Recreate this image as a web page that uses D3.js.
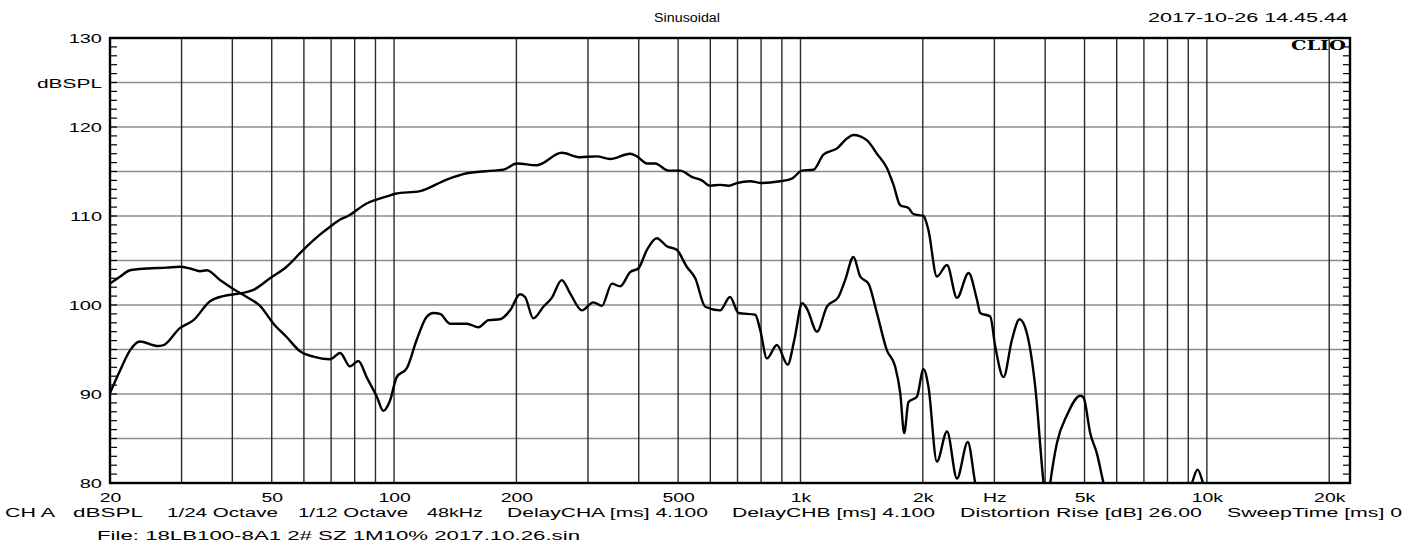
<!DOCTYPE html>
<html><head><meta charset="utf-8">
<script src="https://cdn.jsdelivr.net/npm/d3@7"></script>
<style>
html,body{margin:0;padding:0;background:#fff;}
svg{display:block;}
text{fill:#000;}
</style></head><body>
<svg id="chart" width="1419" height="545"></svg>
<script>
// ---- data ----
const freqA = [20,21.2,22.4,23.7,26.1,27.1,29.7,32.1,35.2,38.0,41.8,45.1,49.5,54.4,59.8,65.7,69.6,73.7,77,85.6,96.0,100.6,115.9,134.8,151,175.5,185.8,200.5,224.5,258.6,287,315,340,381,396,419,439,473,506,540,572,599,634,665,697,752,804,891,953,1008,1077,1139,1230,1301,1350,1458,1542,1632,1694,1760,1844,1898,2008,2065,2166,2294,2427,2592,2718,2770,2930,3016,3160,3314,3460,3608,3782,3964,4040,4117,4276,4525,4880,4972,5164,5364,5568,6500,8500,9192,9487,9784,10500,22500];
const splA  = [90.1,92.7,94.9,95.9,95.4,95.5,97.4,98.3,100.4,101.0,101.3,101.7,103.0,104.3,106.2,107.9,108.8,109.6,110.0,111.4,112.2,112.5,112.8,114.1,114.8,115.1,115.2,115.9,115.7,117.1,116.6,116.7,116.4,117.0,116.7,115.9,115.9,115.1,115.1,114.4,114.0,113.4,113.5,113.4,113.7,113.9,113.7,113.9,114.2,115.1,115.2,116.9,117.6,118.7,119.1,118.5,117.0,115.4,113.5,111.2,110.9,110.2,110.0,108.4,103.2,104.5,100.8,103.6,100.6,99.1,98.7,95.3,91.9,96.1,98.4,96.8,90.8,80.0,77.0,80.0,84.5,87.6,89.8,89.6,85.6,83.3,80.0,72,74,80.0,81.5,80.0,74,70];
const freqB = [20,21.2,22.4,24.6,27.6,29.7,31.5,33.3,34.6,37.3,40.2,43.4,46.8,50.5,54.4,58.7,63.3,69.6,73.7,77.9,81.7,85.6,90.7,94.1,97.8,101.5,107.5,113.7,120.4,125,129.8,137.3,151,161.3,170.7,182.4,193,204.2,210,220.2,233,244.4,258.6,271.2,289.8,309.4,324.6,343.6,360,381,399,419,443,469,496,525,551,583,634,671,704,774,796,827,875,930,965,1010,1037,1098,1161,1240,1288,1350,1403,1470,1542,1632,1710,1760,1800,1844,1934,2008,2065,2166,2294,2427,2580,2692,2900,22500];
const splB  = [102.4,103.2,103.9,104.1,104.2,104.3,104.1,103.8,103.9,102.8,101.8,100.9,99.9,97.9,96.4,94.8,94.2,93.9,94.6,93.1,93.7,91.9,89.7,88.1,89.3,91.9,92.9,96.1,98.7,99.1,99.0,97.9,97.9,97.5,98.3,98.4,99.4,101.2,100.9,98.5,99.8,100.8,102.8,101.3,99.4,100.3,99.9,102.4,102.1,103.7,104.1,106.2,107.5,106.6,106.2,104.3,103.0,99.8,99.4,100.9,99.1,98.9,97.2,94.0,95.5,93.3,96.0,100.2,99.6,97.0,99.8,100.9,102.8,105.4,103.2,102.4,99.1,94.9,93.1,90.1,85.6,89.1,89.7,92.8,90.8,82.4,85.8,80.5,84.6,80.0,74,65];
const xTickValues = [20,50,100,200,500,1000,2000,3000,5000,10000,20000];
const xTickLabels = ["20","50","100","200","500","1k","2k","Hz","5k","10k","20k"];
const yTickValues = [130,125,120,110,100,90,80];
const yTickLabels = ["130","dBSPL","120","110","100","90","80"];
const titleText = "Sinusoidal";
const dateText = "2017-10-26 14.45.44";
const footer1 = ["CH A","dBSPL","1/24 Octave","1/12 Octave","48kHz","DelayCHA [ms] 4.100","DelayCHB [ms] 4.100","Distortion Rise [dB] 26.00","SweepTime [ms] 0"];
const footer2 = "File: 18LB100-8A1 2# SZ 1M10% 2017.10.26.sin";

// ---- layout ----
const L=110, R=1350, T=38, B=483;
const SANS = "'Liberation Sans',Arial,sans-serif";
const SERIF = "'DejaVu Serif','Liberation Serif','Times New Roman',serif";
const svg = d3.select("#chart");
const x = d3.scaleLog().domain([20,22500]).range([L,R]);
const y = d3.scaleLinear().domain([80,130]).range([B,T]);

function fit(sel, w){ sel.attr("textLength", w).attr("lengthAdjust","spacingAndGlyphs"); return sel; }
function stretch(sel, k){ sel.each(function(){ const w=this.getComputedTextLength(); this.setAttribute("textLength", w*k); this.setAttribute("lengthAdjust","spacingAndGlyphs"); }); }
function txt(xp, yp, s, size, anchor){
  return svg.append("text").attr("x",xp).attr("y",yp).attr("text-anchor",anchor||"start")
    .style("font-family",SANS).style("font-size",size+"px").text(s);
}

// grid: horizontal every 5 dB
const hGrid = d3.range(85,130,5);
svg.append("g").selectAll("line").data(hGrid).join("line")
  .attr("x1",L).attr("x2",R).attr("y1",d=>y(d)).attr("y2",d=>y(d))
  .attr("stroke","#8c8c8c").attr("stroke-width",1.5);
// vertical grid lines at k*10^n
const vGrid = [];
[10,100,1000,10000].forEach(dec=>{ for(let k=1;k<=9;k++){ const f=k*dec; if(f>20 && f<=20000) vGrid.push(f);} });
svg.append("g").selectAll("line").data(vGrid).join("line")
  .attr("x1",d=>x(d)).attr("x2",d=>x(d)).attr("y1",T).attr("y2",B)
  .attr("stroke","#2a2a2a").attr("stroke-width",1.4);

// minor ticks every dB on left and right edges
const minor = d3.range(81,130,1);
svg.append("g").selectAll("line").data(minor).join("line")
  .attr("x1",L).attr("x2",L+7).attr("y1",d=>y(d)).attr("y2",d=>y(d))
  .attr("stroke","#000").attr("stroke-width",1.2);
svg.append("g").selectAll("line").data(minor).join("line")
  .attr("x1",R-7).attr("x2",R).attr("y1",d=>y(d)).attr("y2",d=>y(d))
  .attr("stroke","#000").attr("stroke-width",1.2);

// curves
svg.append("clipPath").attr("id","clip").append("rect")
  .attr("x",L).attr("y",T).attr("width",R-L).attr("height",B-T);
const line = d3.line().x(d=>x(d[0])).y(d=>y(d[1])).curve(d3.curveMonotoneX);
const seriesA = freqA.map((f,i)=>[f,splA[i]]);
const seriesB = freqB.map((f,i)=>[f,splB[i]]);
const cg = svg.append("g").attr("clip-path","url(#clip)");
[seriesA, seriesB].forEach(s=>{
  cg.append("path").datum(s).attr("d",line)
    .attr("fill","none").attr("stroke","#000").attr("stroke-width",2.4)
    .attr("stroke-linejoin","round");
});

// frame
svg.append("rect").attr("x",L).attr("y",T).attr("width",R-L).attr("height",B-T)
  .attr("fill","none").attr("stroke","#000").attr("stroke-width",2.4);

// x axis labels
const xAxis = d3.axisBottom(x).tickValues(xTickValues).tickFormat((d,i)=>xTickLabels[i]).tickSize(0).tickPadding(0);
const gx = svg.append("g").attr("transform",`translate(0,${B})`).call(xAxis);
gx.select(".domain").remove();
gx.selectAll("text").attr("y",19).attr("dy",0)
  .style("font-size","12.5px").style("font-family",SANS).attr("fill","#000");
gx.selectAll("text").each(function(){ stretch(d3.select(this), 1.55); });

// y axis labels
const yAxis = d3.axisLeft(y).tickValues(yTickValues).tickFormat((d,i)=>yTickLabels[i]).tickSize(0).tickPadding(0);
const gy = svg.append("g").attr("transform",`translate(${L-8},0)`).call(yAxis);
gy.select(".domain").remove();
gy.selectAll("text").attr("x",0).attr("dy","0.36em")
  .style("font-size","12.5px").style("font-family",SANS).attr("fill","#000");
gy.selectAll("text").each(function(d){ if(d===125) fit(d3.select(this),65); else stretch(d3.select(this),1.6); });

// header
fit(txt(687,22,titleText,12,"middle"),66);
fit(txt(1348,22,dateText,12,"end"),200);
fit(svg.append("text").attr("x",1346).attr("y",50).attr("text-anchor","end")
  .style("font-family",SERIF).style("font-size","12.5px").style("font-weight","bold").text("CLIO"),55);

// footer
const f1x = [5,73,167,298,427,507,732,960,1227];
const f1w = [50,70,111,110,56,201,203,242,175];
footer1.forEach((t,i)=>{ fit(txt(f1x[i],517,t,12), f1w[i]); });
fit(txt(97,540,footer2,12),483);
</script>
</body></html>
